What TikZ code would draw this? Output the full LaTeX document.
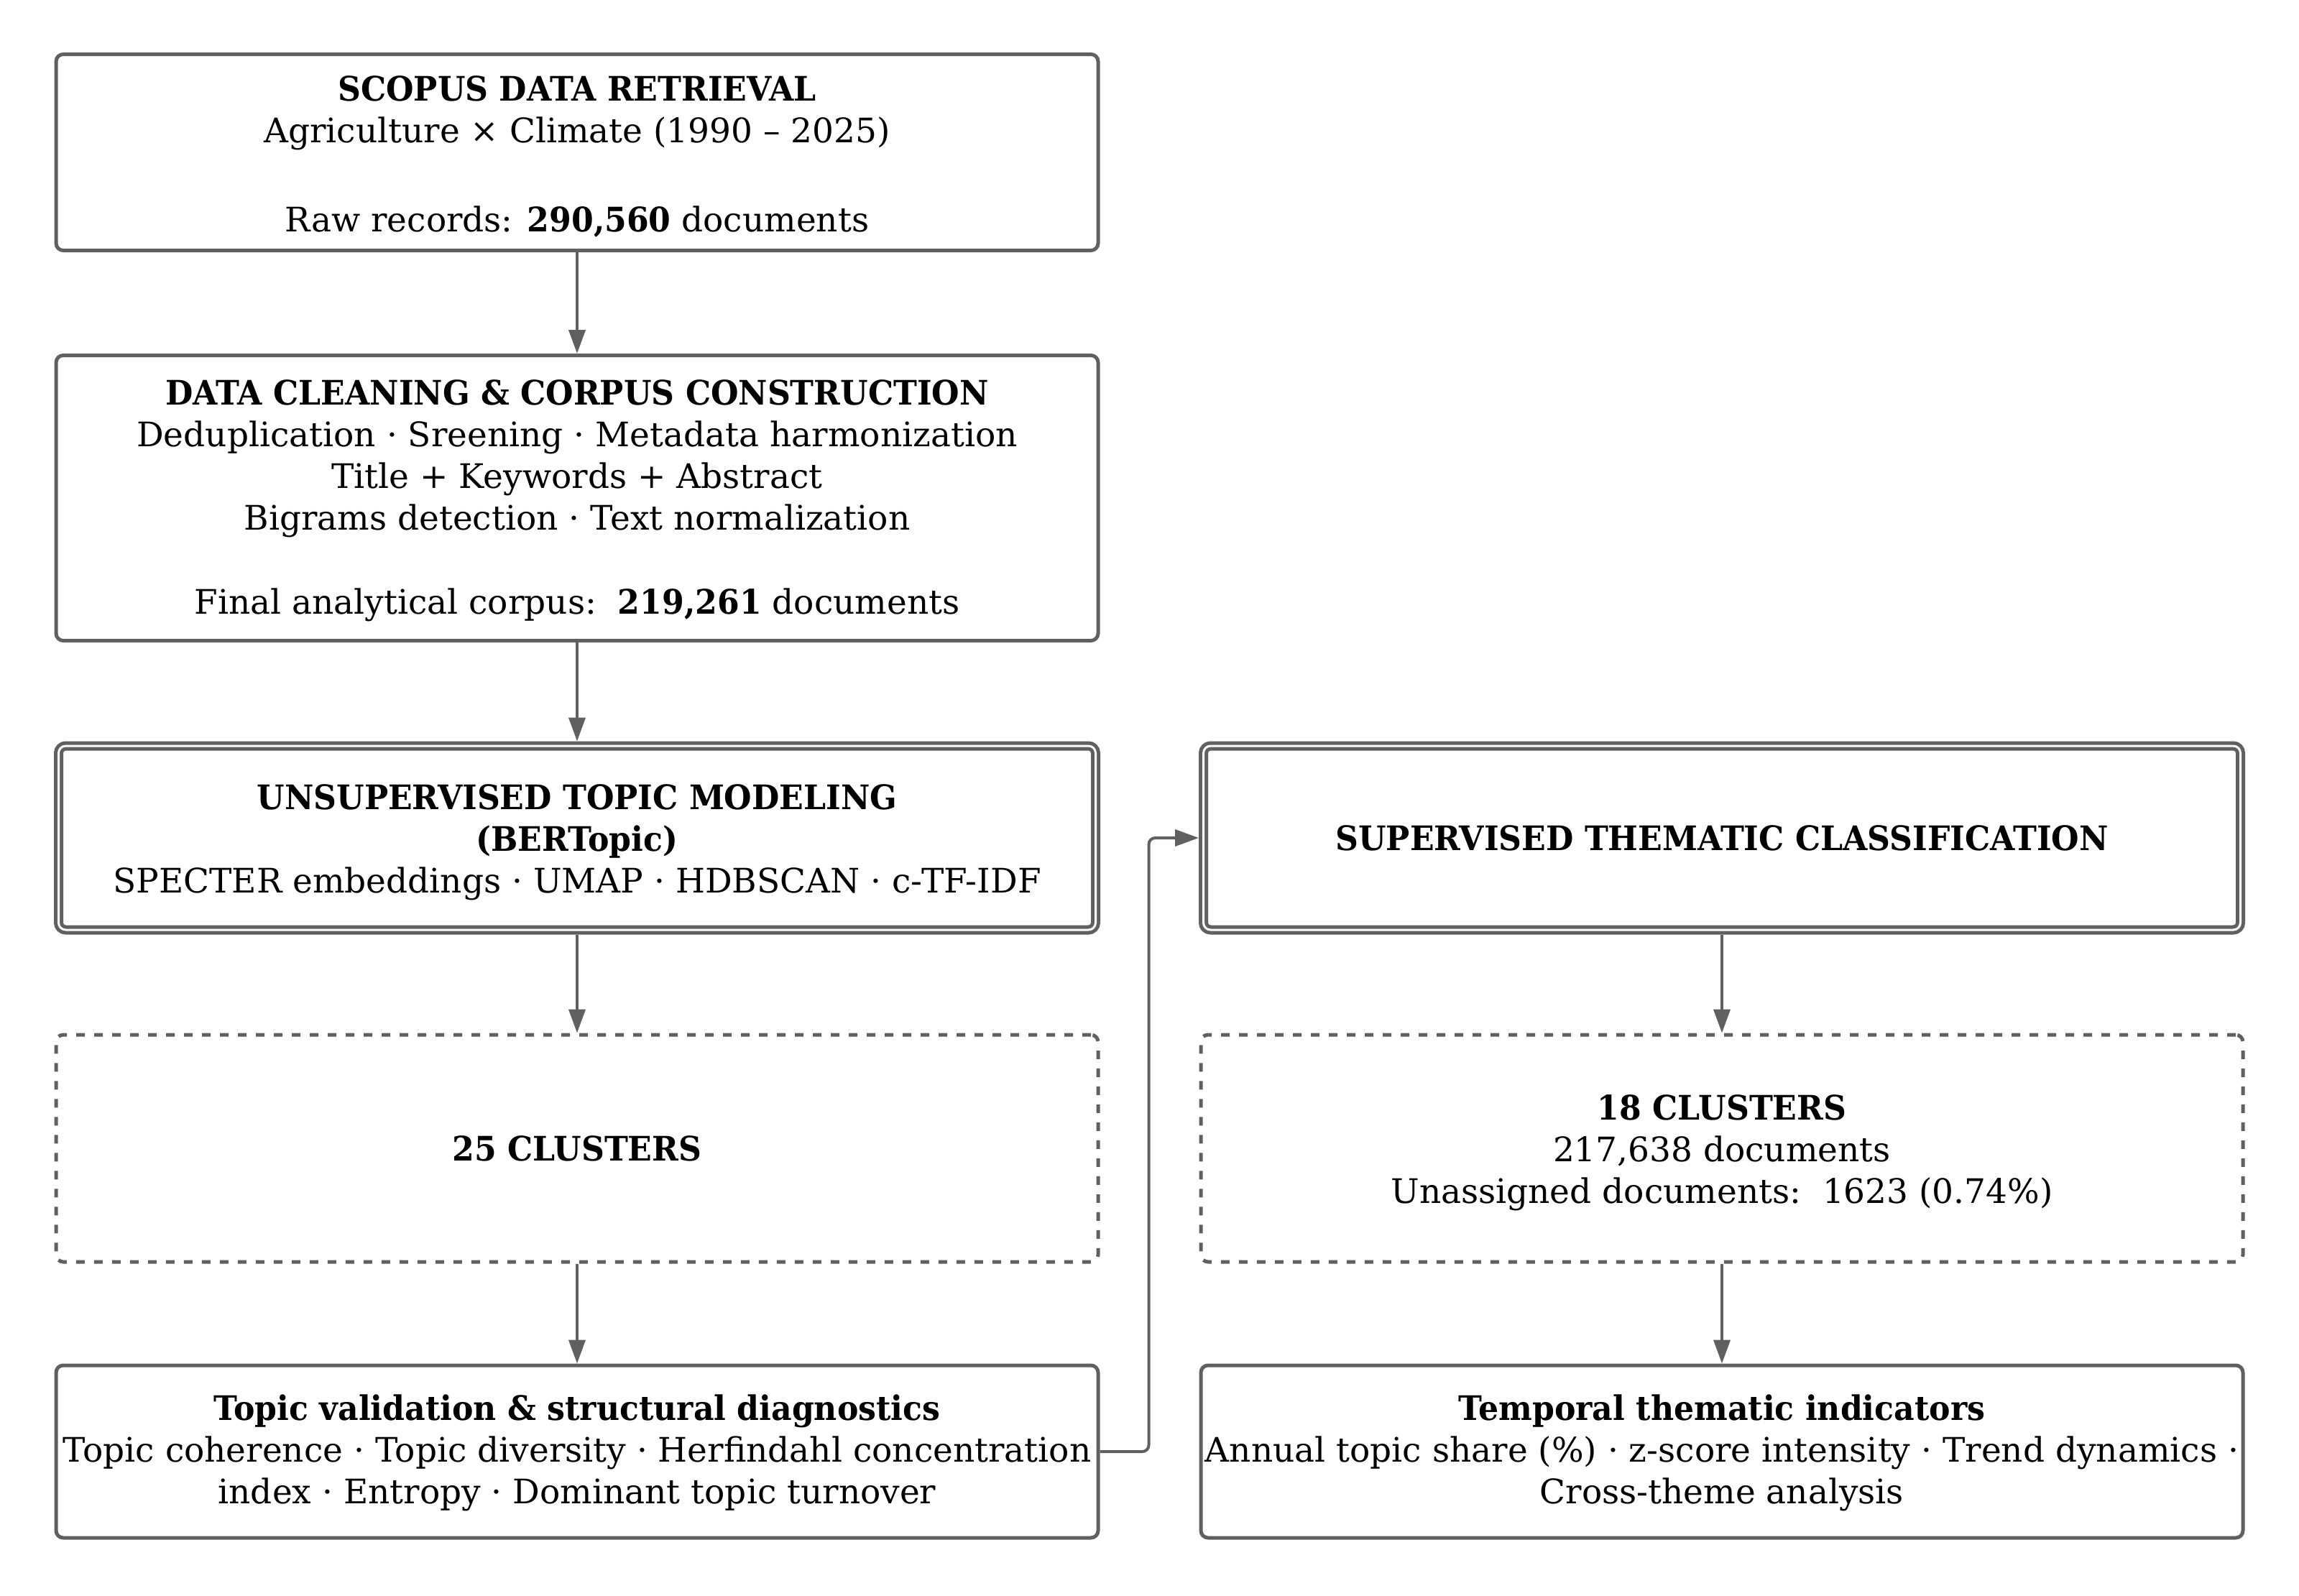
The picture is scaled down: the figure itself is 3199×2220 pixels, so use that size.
\documentclass[tikz,border=0pt]{standalone}
\usepackage{fontspec}
\setmainfont[BoldFeatures={FakeStretch=0.94}]{DejaVu Serif}
\usetikzlibrary{arrows.meta}
\definecolor{edge}{HTML}{606060}
\begin{document}
\begin{tikzpicture}[x=1pt,y=-1pt,
  box/.style={draw=edge, line width=5pt, rounded corners=10pt, inner sep=0pt},
  dbox/.style={box, double=white, double distance=3pt, outer sep=6.5pt},
  dashbox/.style={box, dash pattern=on 12pt off 13pt},
  boxtext/.style={align=center, font=\fontsize{47}{58}\selectfont, inner sep=0pt, text=black},
  arr/.style={draw=edge, line width=4pt, -{Triangle[length=33pt,width=23pt]}}]
\useasboundingbox[fill=white] (0,0) rectangle (3199,2220);

% boxes
\node[box, minimum width=1450, minimum height=273] (scopus) at (803,212) {};
\node[box, minimum width=1450, minimum height=397] (clean) at (803,693) {};
\node[dbox, minimum width=1443, minimum height=256] (unsup) at (803,1166) {};
\node[dbox, minimum width=1443, minimum height=256] (sup) at (2396,1166) {};
\node[dashbox, minimum width=1450, minimum height=316] (c25) at (803,1598) {};
\node[dashbox, minimum width=1450, minimum height=316] (c18) at (2396,1598) {};
\node[box, minimum width=1450, minimum height=240] (valid) at (803,2020) {};
\node[box, minimum width=1450, minimum height=240] (temp) at (2396,2020) {};

% texts
\node[boxtext] (scopusT) at ([yshift=-6pt]scopus.center)
  {\textbf{SCOPUS DATA RETRIEVAL}\\ Agriculture × Climate (1990 – 2025)\\[66pt]
   Raw records: \textbf{290,560} documents};
\node[boxtext] (cleanT) at ([yshift=-4pt]clean.center)
  {\textbf{DATA CLEANING \& CORPUS CONSTRUCTION}\\
   Deduplication · Sreening · Metadata harmonization\\
   Title + Keywords + Abstract\\
   Bigrams detection · Text normalization\\[59pt]
   Final analytical corpus:\ \ \textbf{219,261} documents};
\node[boxtext] (unsupT) at ([yshift=-6pt]unsup.center)
  {\textbf{UNSUPERVISED TOPIC MODELING}\\ \textbf{(BERTopic)}\\
   SPECTER embeddings · UMAP · HDBSCAN · c-TF-IDF};
\node[boxtext] (supT) at (sup.center)
  {\textbf{SUPERVISED THEMATIC CLASSIFICATION}};
\node[boxtext] (c25T) at (c25.center) {\textbf{25 CLUSTERS}};
\node[boxtext] (c18T) at ([yshift=-6pt]c18.center)
  {\textbf{18 CLUSTERS}\\ 217,638 documents\\ Unassigned documents:\ \ 1623 (0.74\%)};
\node[boxtext] (validT) at ([yshift=-2pt]valid.center)
  {\textbf{Topic validation \& structural diagnostics}\\
   Topic coherence · Topic diversity · Herfindahl concentration\\
   index · Entropy · Dominant topic turnover};
\node[boxtext] (tempT) at ([yshift=-2pt]temp.center)
  {\textbf{Temporal thematic indicators}\\
   Annual topic share (\%) · z-score intensity · Trend dynamics ·\\
   Cross-theme analysis};

% connectors
\draw[arr] (scopus.south) -- (clean.north);
\draw[arr] (clean.south) -- (unsup.north);
\draw[arr] (unsup.south) -- (c25.north);
\draw[arr] (c25.south) -- (valid.north);
\draw[arr] (sup.south) -- (c18.north);
\draw[arr] (c18.south) -- (temp.north);
\draw[arr, rounded corners=9pt] (valid.east) -- ++(68,0) |- (sup.west);
\end{tikzpicture}
\end{document}
